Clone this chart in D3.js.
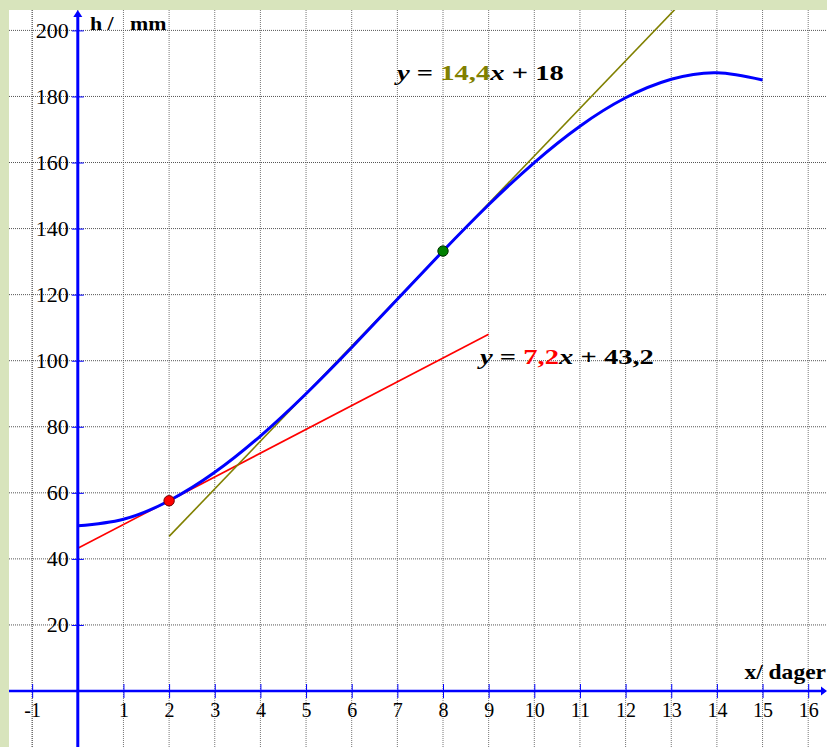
<!DOCTYPE html>
<html>
<head>
<meta charset="utf-8">
<script src="https://cdn.jsdelivr.net/npm/d3@7"></script>
<style>
  body { margin: 0; background: #d8e4bc; }
  svg { display: block; }
  text { font-family: "Liberation Serif", "Times New Roman", serif; }
</style>
</head>
<body>
<div id="chart"></div>
<script>
// tick labels
var xTicks = [-1, 1, 2, 3, 4, 5, 6, 7, 8, 9, 10, 11, 12, 13, 14, 15, 16]
var yTicks = [20, 40, 60, 80, 100, 120, 140, 160, 180, 200]

var days = [0, 1, 2, 3, 4, 5, 6, 7, 8, 9, 10, 11, 12, 13, 14, 15]
var heights = [50, 52, 57.6, 66.2, 77.2, 90, 104, 118.6, 133.2, 147.2, 160, 171, 179.6, 185.2, 187.2, 185]

// tangent y = 7,2x + 43,2 (red)
var tangent1X = [0, 9]
var tangent1Y = [43.2, 108]
// tangent y = 14,4x + 18 (olive), runs past the top edge
var tangent2X = [2, 13.5]
var tangent2Y = [46.8, 212.4]

// touching points
var pointX = [2, 8]
var pointY = [57.6, 133.2]

var width = 827
var height = 747
var plotLeft = 9
var plotTop = 10

var blue = "#0000ff"

var x = d3.scaleLinear().domain([0, 16]).range([77.8, 808.2])
var y = d3.scaleLinear().domain([0, 200]).range([691, 30.4])

var svg = d3.select("#chart")
    .append("svg")
    .attr("width", width)
    .attr("height", height)

// green frame + white sheet
svg.append("rect")
    .attr("width", width).attr("height", height)
    .attr("fill", "#d8e4bc")
svg.append("rect")
    .attr("x", plotLeft).attr("y", plotTop)
    .attr("width", width - plotLeft).attr("height", height - plotTop)
    .attr("fill", "#ffffff")

svg.append("clipPath").attr("id", "plotClip")
    .append("rect")
    .attr("x", plotLeft).attr("y", plotTop)
    .attr("width", width - plotLeft).attr("height", height - plotTop)

// dotted grid
svg.append("g")
    .selectAll("line")
    .data(d3.range(-1, 17))
    .enter()
    .append("line")
    .attr("x1", d => x(d)).attr("x2", d => x(d))
    .attr("y1", plotTop).attr("y2", height)
    .attr("stroke", d => d === -1 ? "#222" : "#777")
    .attr("stroke-width", 1)
    .attr("stroke-dasharray", "1,1")

svg.append("g")
    .selectAll("line")
    .data(yTicks)
    .enter()
    .append("line")
    .attr("x1", plotLeft).attr("x2", width)
    .attr("y1", d => y(d)).attr("y2", d => y(d))
    .attr("stroke", "#555")
    .attr("stroke-width", 1)
    .attr("stroke-dasharray", "1,1")

var marks = svg.append("g").attr("clip-path", "url(#plotClip)")

var straight = d3.line()
    .x(d => x(d[0]))
    .y(d => y(d[1]))

marks.append("path")
    .attr("d", straight(d3.zip(tangent1X, tangent1Y)))
    .attr("stroke", "#ff0000")
    .attr("stroke-width", 1.6)
    .attr("fill", "none")

marks.append("path")
    .attr("d", straight(d3.zip(tangent2X, tangent2Y)))
    .attr("stroke", "#808000")
    .attr("stroke-width", 1.6)
    .attr("fill", "none")

var curve = d3.line()
    .x(d => x(d[0]))
    .y(d => y(d[1]))
    .curve(d3.curveNatural)

marks.append("path")
    .attr("d", curve(d3.zip(days, heights)))
    .attr("stroke", blue)
    .attr("stroke-width", 3)
    .attr("fill", "none")

// x axis
var xAxis = svg.append("g")
    .attr("transform", "translate(0," + y(0) + ")")
    .call(d3.axisBottom(x).tickValues(xTicks).tickSize(14).tickFormat(d => String(d)))
xAxis.select(".domain").remove()
xAxis.selectAll(".tick line")
    .attr("y1", -7).attr("y2", 7)
    .attr("stroke", blue).attr("stroke-width", 1)
xAxis.selectAll(".tick text")
    .attr("y", 26).attr("dy", 0)
    .attr("fill", "#000")
    .style("font-family", "Liberation Serif")
    .style("font-size", "20px")

svg.append("line")
    .attr("x1", plotLeft).attr("x2", width - 5)
    .attr("y1", y(0)).attr("y2", y(0))
    .attr("stroke", blue).attr("stroke-width", 2.4)
svg.append("path")
    .attr("d", "M" + (width - 6) + "," + (y(0) - 4.5) + "L" + width + "," + y(0) + "L" + (width - 6) + "," + (y(0) + 4.5) + "Z")
    .attr("fill", blue)

// y axis
var yAxis = svg.append("g")
    .attr("transform", "translate(" + x(0) + ",0)")
    .call(d3.axisLeft(y).tickValues(yTicks).tickSize(12).tickFormat(d => String(d)))
yAxis.select(".domain").remove()
yAxis.selectAll(".tick line")
    .attr("x1", -6).attr("x2", 6)
    .attr("stroke", blue).attr("stroke-width", 1)
yAxis.selectAll(".tick text")
    .attr("x", -9).attr("dy", "0.31em")
    .attr("fill", "#000")
    .style("font-family", "Liberation Serif")
    .style("font-size", "22px")

svg.append("line")
    .attr("x1", x(0)).attr("x2", x(0))
    .attr("y1", height).attr("y2", plotTop + 6)
    .attr("stroke", blue).attr("stroke-width", 3)
svg.append("path")
    .attr("d", "M" + (x(0) - 4.5) + "," + (plotTop + 7) + "L" + x(0) + "," + plotTop + "L" + (x(0) + 4.5) + "," + (plotTop + 7) + "Z")
    .attr("fill", blue)

// touching points
svg.append("g")
    .selectAll("circle")
    .data(d3.zip(pointX, pointY, ["#ff0000", "#008000"], ["#700000", "#003000"]))
    .enter()
    .append("circle")
    .attr("cx", d => x(d[0]))
    .attr("cy", d => y(d[1]))
    .attr("r", 5.2)
    .attr("fill", d => d[2])
    .attr("stroke", d => d[3])
    .attr("stroke-width", 1)

// axis titles
function label(px, py, sx, size, anchor) {
    return svg.append("text")
        .attr("transform", "translate(" + px + "," + py + ") scale(" + sx + ",1)")
        .attr("text-anchor", anchor || "start")
        .attr("font-weight", "bold")
        .attr("font-size", size)
        .attr("fill", "#000")
}
label(90, 30, 1.15, 19).text("h /")
label(130, 30, 1.15, 19).text("mm")
label(826, 679, 1.12, 21, "end").text("x/ dager")

// equations of the tangents
function equation(px, py, slope, rest, color) {
    var t = label(px, py, 1.3, 22)
    t.append("tspan").attr("font-style", "italic").text("y")
    t.append("tspan").text(" = ")
    t.append("tspan").attr("fill", color).text(slope)
    t.append("tspan").attr("font-style", "italic").text("x")
    t.append("tspan").text(" + " + rest)
}
equation(397, 80, "14,4", "18", "#808000")
equation(480, 364, "7,2", "43,2", "#ff0000")
</script>
</body>
</html>
